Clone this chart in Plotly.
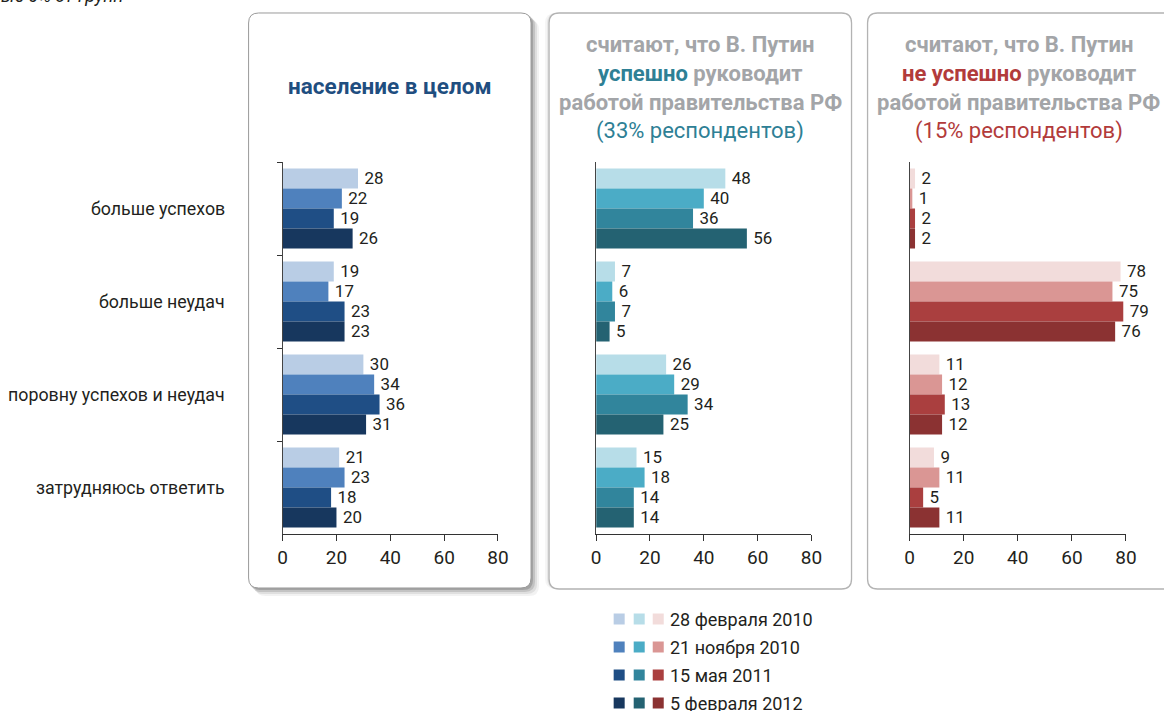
import plotly.graph_objects as go

W, H = 1164, 711

categories = ["больше успехов", "больше неудач", "поровну успехов и неудач", "затрудняюсь ответить"]
dates = ["28 февраля 2010", "21 ноября 2010", "15 мая 2011", "5 февраля 2012"]

# values by date (rows) for each category (columns)
total_vals = [
    [28, 19, 30, 21],
    [22, 17, 34, 23],
    [19, 23, 36, 18],
    [26, 23, 31, 20],
]
success_vals = [
    [48, 7, 26, 15],
    [40, 6, 29, 18],
    [36, 7, 34, 14],
    [56, 5, 25, 14],
]
fail_vals = [
    [2, 78, 11, 9],
    [1, 75, 12, 11],
    [2, 79, 13, 5],
    [2, 76, 12, 11],
]
x_ticks = [0, 20, 40, 60, 80]

blue_colors = ["#b9cde5", "#4f81bd", "#1f4e85", "#17375e"]
teal_colors = ["#b7dde8", "#4bacc6", "#31859c", "#246272"]
red_colors = ["#f2dcdb", "#da9694", "#aa3f3f", "#8b3232"]

FONT = "Roboto, sans-serif"
TXT = "#231f20"

# horizontal correction for how the page is photographed
HX_OFF, HX_SC = 5.8, 0.9847


def px(x):
    return ((x - HX_OFF) / HX_SC) / W


def py(y):
    return 1 - y / H


fig = go.Figure()

panels = [
    (total_vals, blue_colors, "x", "y"),
    (success_vals, teal_colors, "x2", "y2"),
    (fail_vals, red_colors, "x3", "y3"),
]
for vals, cols, xa, ya in panels:
    for i, d in enumerate(dates):
        fig.add_trace(go.Bar(
            x=vals[i], y=categories, orientation="h",
            name=d, marker=dict(color=cols[i], line=dict(width=0)),
            text=["\u2009" + str(v) for v in vals[i]], textposition="outside",
            textfont=dict(family=FONT, size=19.5, color=TXT),
            cliponaxis=False, showlegend=False,
            xaxis=xa, yaxis=ya,
        ))

ydom = [py(534), py(162)]
xdoms = [[px(283), px(498)], [px(596), px(811)], [px(909), px(1125)]]

layout = dict(
    width=W, height=H, autosize=False,
    margin=dict(l=0, r=0, t=0, b=0),
    paper_bgcolor="white", plot_bgcolor="rgba(0,0,0,0)",
    barmode="group", bargap=0.14, bargroupgap=0,
    font=dict(family=FONT, color=TXT),
)
for k, (xa, ya) in enumerate([("xaxis", "yaxis"), ("xaxis2", "yaxis2"), ("xaxis3", "yaxis3")]):
    layout[xa] = dict(
        domain=xdoms[k], range=[0, 80], tickvals=x_ticks,
        showline=True, linecolor="#333", linewidth=1.2,
        ticks="outside", ticklen=6, tickcolor="#333",
        tickfont=dict(family=FONT, size=19, color=TXT),
        showgrid=False, zeroline=False, fixedrange=True,
        anchor="y" if k == 0 else "y%d" % (k + 1),
    )
    layout[ya] = dict(
        domain=ydom, autorange="reversed", type="category",
        categoryorder="array", categoryarray=categories,
        showline=True, linecolor="#444", linewidth=1.2,
        ticks="outside" if k == 0 else "", ticklen=5, tickcolor="#333",
        tickson="boundaries", showticklabels=False,
        showgrid=False, zeroline=False, fixedrange=True,
        anchor="x" if k == 0 else "x%d" % (k + 1),
    )
fig.update_layout(**layout)


def pth(segs, close=True):
    s = ""
    for cmd, ps in segs:
        s += cmd + " " + " ".join("%.5f,%.5f" % (px(a), py(b)) for a, b in ps) + " "
    return s + ("Z" if close else "")


def rrect(x0, y0, x1, y1, r):
    return pth([
        ("M", [(x0 + r, y0)]), ("L", [(x1 - r, y0)]), ("Q", [(x1, y0), (x1, y0 + r)]),
        ("L", [(x1, y1 - r)]), ("Q", [(x1, y1), (x1 - r, y1)]),
        ("L", [(x0 + r, y1)]), ("Q", [(x0, y1), (x0, y1 - r)]),
        ("L", [(x0, y0 + r)]), ("Q", [(x0, y0), (x0 + r, y0)]),
    ])


shapes = []
# shadow of first panel
for off, op in [(8, 0.05), (6, 0.08), (4, 0.12), (2, 0.16)]:
    shapes.append(dict(type="path", xref="paper", yref="paper", layer="below",
                       path=rrect(249 + off - 1, 13 + off - 1, 531 + off, 588 + off, 10),
                       fillcolor="rgba(0,0,0,%.2f)" % op, line=dict(width=0)))
shapes.append(dict(type="path", xref="paper", yref="paper", layer="below",
                   path=rrect(249, 13, 531, 588, 10), fillcolor="white",
                   line=dict(color="#9a9a9a", width=1)))
# soft shadow left of panel 2
for off, op in [(4, 0.04), (2, 0.06)]:
    shapes.append(dict(type="path", xref="paper", yref="paper", layer="below",
                       path=rrect(549 - off, 13, 851, 589, 10),
                       fillcolor="rgba(0,0,0,%.2f)" % op, line=dict(width=0)))
shapes.append(dict(type="path", xref="paper", yref="paper", layer="below",
                   path=rrect(549, 13, 851, 589, 10), fillcolor="white",
                   line=dict(color="#b3b3b3", width=1.3)))
# third panel (cut by the right edge)
shapes.append(dict(type="path", xref="paper", yref="paper", layer="below",
                   path=pth([("M", [(1166, 13)]), ("L", [(877, 13)]), ("Q", [(867, 13), (867, 23)]),
                             ("L", [(867, 579)]), ("Q", [(867, 589), (877, 589)]),
                             ("L", [(1166, 589)])], close=False),
                   fillcolor="rgba(0,0,0,0)", line=dict(color="#b3b3b3", width=1.3)))

# legend swatches
leg_x = [619, 639, 658]
leg_y = [619, 647, 675, 703]
for r in range(4):
    for c, cols in enumerate([blue_colors, teal_colors, red_colors]):
        shapes.append(dict(type="rect", xref="paper", yref="paper",
                           x0=px(leg_x[c] - 5.5), x1=px(leg_x[c] + 5.5),
                           y0=py(leg_y[r] + 5.5), y1=py(leg_y[r] - 5.5),
                           fillcolor=cols[r], line=dict(width=0)))
fig.update_layout(shapes=shapes)

ann = []
for r, d in enumerate(dates):
    ann.append(dict(xref="paper", yref="paper", x=px(668), y=py(leg_y[r]),
                    xanchor="left", yanchor="middle", showarrow=False, text=d,
                    font=dict(family=FONT, size=18, color=TXT)))
for cat in categories:
    ann.append(dict(xref="paper", yref="y", x=px(227), y=cat,
                    xanchor="right", yanchor="middle", showarrow=False, text=cat,
                    font=dict(family=FONT, size=17.8, color=TXT)))

GRAY = "#a3a5a8"
ann.append(dict(xref="paper", yref="paper", x=px(390), y=py(86), xanchor="center",
                yanchor="middle", showarrow=False, text="<b>население в целом</b>",
                font=dict(family=FONT, size=22.5, color="#1f4e80")))
titles = [
    (700, "#2e8095", "успешно", "(33% респондентов)"),
    (1018, "#b23b3b", "не успешно", "(15% респондентов)"),
]
for cx, col, word, pct in titles:
    lines = [
        "<b>считают, что В. Путин</b>",
        "<b><span style='color:%s'>%s</span> руководит</b>" % (col, word),
        "<b>работой правительства РФ</b>",
        "<span style='color:%s'>%s</span>" % (col, pct),
    ]
    for j, t in enumerate(lines):
        ann.append(dict(xref="paper", yref="paper", x=px(cx), y=py(44 + 29 * j),
                        xanchor="center", yanchor="middle", showarrow=False, text=t,
                        font=dict(family=FONT, size=22, color=GRAY)))

ann.append(dict(xref="paper", yref="paper", x=px(0), y=py(-4), xanchor="left",
                yanchor="middle", showarrow=False, text="<i>ые 6% от групп</i>",
                font=dict(family=FONT, size=18, color=TXT)))
fig.update_layout(annotations=ann)

post = ("document.documentElement.style.margin='0';document.body.style.margin='0';"
        "document.body.style.overflow='hidden';")
fig.write_html("out.html", config={"displayModeBar": False}, post_script=post)
